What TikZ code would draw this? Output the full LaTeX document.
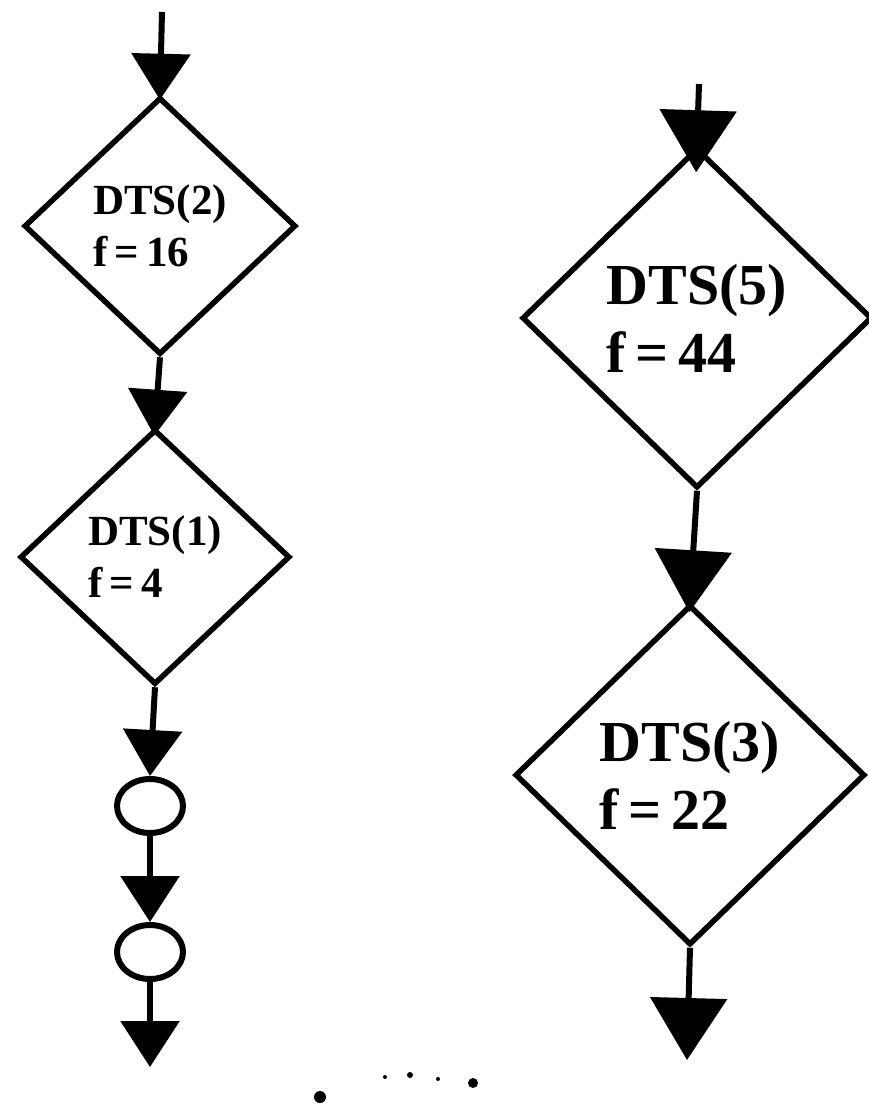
\documentclass[tikz,border=0pt]{standalone}
\usepackage{fontspec}
\setmainfont{Liberation Serif}
\usetikzlibrary{arrows.meta,shapes.geometric}
\begin{document}
\begin{tikzpicture}[x=1pt,y=-1pt,
  lnk/.style={line width=6pt},
  tipS/.style={-{Triangle[width=58pt,length=46pt]}},
  tipL/.style={-{Triangle[width=76pt,length=62pt]}},
  dec/.style={diamond, draw, line width=5.5pt, inner sep=0pt, align=left},
  decS/.style={dec, font=\fontsize{43}{52}\selectfont\bfseries},
  decL/.style={dec, font=\fontsize{58}{68}\selectfont\bfseries},
  ring/.style={ellipse, draw, line width=6pt, minimum width=66pt, minimum height=54pt, inner sep=0pt},
  speck/.style={fill=black}]
  \fill[white] (0,0) rectangle (868,1117);
  \useasboundingbox (0,0) rectangle (868,1117);

  % left chain
  \coordinate (s1) at (162,12);
  \node[decS, minimum width=272pt, minimum height=257pt] (d1) at (160,226) {DTS(2)\\f\,=\,16};
  \node[decS, minimum width=270pt, minimum height=255pt] (d2) at (155,557) {DTS(1)\\f\,=\,4};
  \node[ring] (c1) at (150,806) {};
  \node[ring] (c2) at (150,952) {};
  \coordinate (e1) at (150,1067);

  \draw[lnk,tipS,shorten >=-5pt] (s1) -- (d1.north);
  \draw[lnk,tipS,shorten >=-9pt] (d1.south) -- (d2.north);
  \draw[lnk,tipS] (d2.south) -- (c1.north);
  \draw[lnk,tipS] (c1.south) -- (c2.north);
  \draw[lnk,tipS] (c2.south) -- (e1);

  % right chain
  \coordinate (s2) at (699,84);
  \node[decL, minimum width=350pt, minimum height=340pt] (d3) at (697,318) {DTS(5)\\f\,=\,44};
  \node[decL, minimum width=350pt, minimum height=340pt] (d4) at (690,775) {DTS(3)\\f\,=\,22};
  \coordinate (e2) at (687,1060);

  \draw[lnk,tipL,shorten >=-27pt] (s2) -- (d3.north);
  \draw[lnk,tipL,shorten >=-10pt] (d3.south) -- (d4.north);
  \draw[lnk,tipL] (d4.south) -- (e2);

  % specks along the lower edge
  \fill[speck] (320,1097) circle (6);
  \fill[speck] (385,1077) circle (2);
  \fill[speck] (410,1075) circle (3);
  \fill[speck] (438,1079) circle (2);
  \fill[speck] (473,1083) circle (5);
\end{tikzpicture}
\end{document}
